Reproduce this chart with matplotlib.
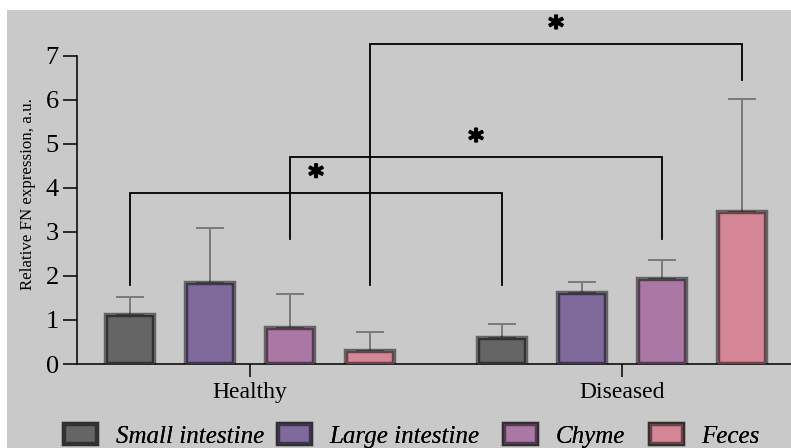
import numpy as np
import matplotlib
matplotlib.use('Agg')
import matplotlib.pyplot as plt
import matplotlib.patheffects as pe
from matplotlib.patches import Rectangle

plt.rcParams['font.family'] = ['Liberation Serif', 'DejaVu Serif']

# data
groups = ['Healthy', 'Diseased']
tissues = ['Small intestine', 'Large intestine', 'Chyme', 'Feces']
healthy_mean = [1.12, 1.84, 0.82, 0.30]
healthy_err = [0.40, 1.25, 0.77, 0.43]
diseased_mean = [0.59, 1.61, 1.93, 3.45]
diseased_err = [0.32, 0.25, 0.43, 2.57]
colors = ['#656565', '#7f6a9b', '#ab77a4', '#d48696']

# significance brackets: (tissue index, left leg start, right leg start, bracket top)
brackets = [(0, 1.80, 1.80, 3.89),
            (2, 2.84, 2.84, 4.70),
            (3, 1.80, 6.45, 7.27)]

group_offset = 4.65
edge = (0, 0, 0, 0.5)
errcolor = '#7a7a7a'

fig = plt.figure(figsize=(7.91, 4.48), dpi=100, facecolor='white')
fig.patches.append(Rectangle((7 / 791, 0), 1, 438 / 448, transform=fig.transFigure,
                             facecolor='#c9c9c9', edgecolor='none', zorder=-10))
ax = fig.add_axes([77 / 791, 84 / 448, 714 / 791, 308 / 448])
ax.set_facecolor('none')

x_h = np.arange(4)
x_d = np.arange(4) + group_offset
for xs, means, errs in [(x_h, healthy_mean, healthy_err), (x_d, diseased_mean, diseased_err)]:
    ax.errorbar(xs, means, yerr=[np.zeros(4), errs], fmt='none', ecolor=errcolor,
                elinewidth=1.4, capsize=10, capthick=1.4, zorder=2)
    ax.bar(xs, means, width=0.6, color=colors, edgecolor=edge, linewidth=3.2,
           zorder=3)

for i, l0, r0, top in brackets:
    xl = x_h[i]
    xr = x_d[i]
    ax.plot([xl, xl, xr, xr], [l0, top, top, r0], color='black', lw=1.3,
            clip_on=False, zorder=4, solid_joinstyle='miter')
    ax.annotate('*', xy=((xl + xr) / 2, top), xytext=(0, 11), textcoords='offset points',
                ha='center', va='center', fontsize=21, fontweight='bold',
                family='DejaVu Sans', annotation_clip=False,
                path_effects=[pe.withStroke(linewidth=1.2, foreground='black')])

ax.set_xlim(-0.6625, 8.2625)
ax.set_ylim(0, 7)
ax.set_yticks(range(8))
ax.set_xticks([1.5, 1.5 + group_offset])
ax.set_xticklabels(groups, fontsize=17)
ax.tick_params(axis='y', labelsize=19, length=10, width=1.1, pad=3)
ax.tick_params(axis='x', length=9, width=1.1, pad=4)
for s in ['top', 'right']:
    ax.spines[s].set_visible(False)
for s in ['left', 'bottom']:
    ax.spines[s].set_linewidth(1.1)
ax.set_ylabel('Relative FN expression, a.u.', fontsize=12.2)
ax.yaxis.set_label_coords(-0.0574, 0.552)

# legend entries laid out one by one (uneven spacing as in the reference)
legend_x = [63.5, 277.5, 503.5, 649.5]
for c, name, lx in zip(colors, tissues, legend_x):
    h = Rectangle((0, 0), 1, 1, facecolor=c, edgecolor=edge, linewidth=3.2)
    lg = fig.legend([h], [name], loc='center left', bbox_to_anchor=(lx / 791, 12 / 448),
                    frameon=False, prop={'style': 'italic', 'size': 18},
                    handlelength=1.32, handleheight=0.84, handletextpad=0.76,
                    borderpad=0, borderaxespad=0)
    fig.add_artist(lg)

fig.savefig('out.png', dpi=100)
